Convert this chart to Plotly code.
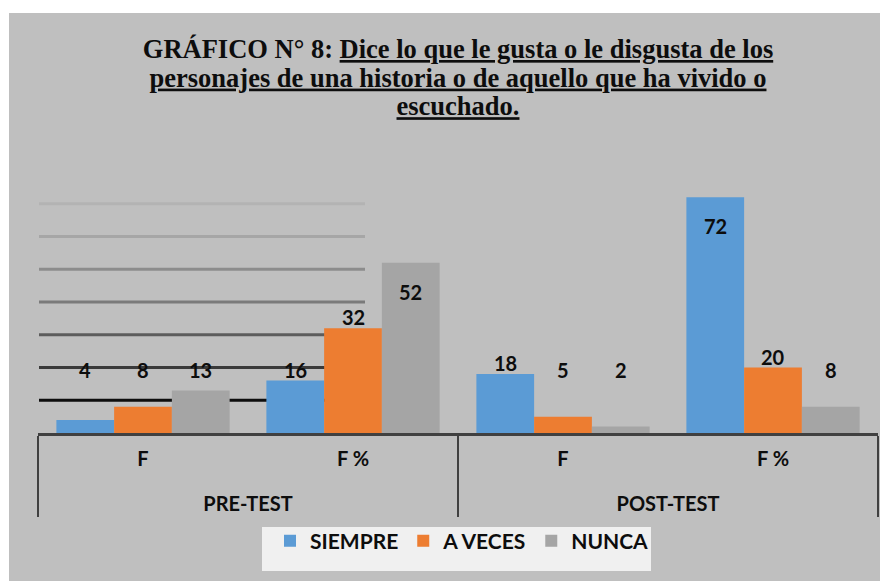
import plotly.graph_objects as go

groups = ["PRE-TEST", "PRE-TEST", "POST-TEST", "POST-TEST"]
subcats = ["F", "F %", "F", "F %"]
siempre = [4, 16, 18, 72]
a_veces = [8, 32, 5, 20]
nunca = [13, 52, 2, 8]
series_names = ["SIEMPRE", "A VECES", "NUNCA"]
colors = ["#5b9bd5", "#ed7d31", "#a5a5a5"]
grid_vals = [10, 20, 30, 40, 50, 60, 70]
grid_colors = ["#0d0d0d", "#3a3a3a", "#5c5c5c", "#7a7a7a", "#8c8c8c", "#a6a6a6", "#b3b3b3"]
title_lines = ["Dice lo que le gusta o le disgusta de los",
               "personajes de una historia o de aquello que ha vivido o",
               "escuchado."]
title_prefix = "GRÁFICO N° 8: "

# page body has an 8px margin; figure is sized to fill the rest of the window
OFF = 8
W, H = 888 - OFF, 581 - OFF
ML, MR, MT, MB = 30, 10, 163, 148
PW = W - ML - MR
PH = H - MT - MB

FONT = "Lato"

def fx(x):  # window pixel x -> paper x
    return (x - OFF - ML) / PW
def fy(y):  # window pixel y -> paper y
    return (H - MB - (y - OFF)) / PH

fig = go.Figure()
series = [siempre, a_veces, nunca]
xcats = [["<b>%s</b>" % g for g in groups],
         ["<b>%s</b><br><span style='font-size:12px'>&nbsp;</span>" % s for s in subcats]]
for name, vals, col in zip(series_names, series, colors):
    fig.add_trace(go.Bar(
        x=xcats, y=vals, name="<b>%s</b>" % name,
        marker=dict(color=col, line=dict(width=0)),
    ))

# data labels
offsets = [-1, 0, 1]
bar_w = (1 - 0.175) / 3
annotations = []
for si, vals in enumerate(series):
    for ci, v in enumerate(vals):
        xc = ci + offsets[si] * bar_w
        if v >= 50:
            y, anchor, shift = v, "top", -15
        else:
            y, anchor, shift = max(v, 16), "bottom", -3
        annotations.append(dict(
            x=xc, y=y, xref="x", yref="y", text="<b>%d</b>" % v,
            showarrow=False, yanchor=anchor, yshift=shift,
            font=dict(family=FONT, size=20, color="#0d0d0d"),
        ))

shapes = []
shapes.append(dict(type="rect", xref="paper", yref="paper",
                   x0=fx(0), x1=fx(888), y0=fy(13), y1=fy(OFF),
                   fillcolor="white", line=dict(width=0), layer="below"))
shapes.append(dict(type="rect", xref="paper", yref="paper",
                   x0=fx(OFF), x1=fx(9), y0=fy(581), y1=fy(OFF),
                   fillcolor="white", line=dict(width=0), layer="below"))
for gv, gc in zip(grid_vals, grid_colors):
    shapes.append(dict(type="line", xref="paper", yref="y",
                       x0=fx(39), x1=fx(365), y0=gv, y1=gv,
                       line=dict(color=gc, width=3), layer="below"))
shapes.append(dict(type="rect", xref="paper", yref="paper",
                   x0=fx(262), x1=fx(651), y0=fy(571), y1=fy(527),
                   fillcolor="#f0f0f0", line=dict(width=0), layer="below"))

span = '<span style="font-size:26.5px">%s</span>'
title_text = "<br>".join(
    [span % ("<b>%s<u>%s</u></b>" % (title_prefix, title_lines[0]))] +
    [span % ("<b><u>%s</u></b>" % t) for t in title_lines[1:]]
)

fig.update_layout(
    width=W, height=H,
    margin=dict(l=ML, r=MR, t=MT, b=MB),
    paper_bgcolor="#bfbfbf",
    plot_bgcolor="rgba(0,0,0,0)",
    barmode="group", bargap=0.175, bargroupgap=0,
    title=dict(text=title_text, x=0.5, xref="paper", xanchor="center",
               y=(H - 50) / H, yref="container", yanchor="top",
               font=dict(family="Liberation Serif", size=22, color="#0d0d0d")),
    showlegend=True,
    legend=dict(orientation="h", x=fx(462), xanchor="center", y=fy(541), yanchor="middle",
                bgcolor="rgba(0,0,0,0)", itemwidth=30,
                font=dict(family=FONT, size=21, color="#0d0d0d"),
                traceorder="normal"),
    annotations=annotations,
    shapes=shapes,
    xaxis=dict(type="multicategory", showline=True, linecolor="#404040", linewidth=3,
               showgrid=False, ticks="", ticklabelstandoff=6,
               showdividers=True, dividercolor="#404040", dividerwidth=2,
               tickfont=dict(family=FONT, size=20, color="#0d0d0d")),
    yaxis=dict(range=[0, 80], visible=False, showgrid=False, zeroline=False),
)
fig.write_html("out.html")
